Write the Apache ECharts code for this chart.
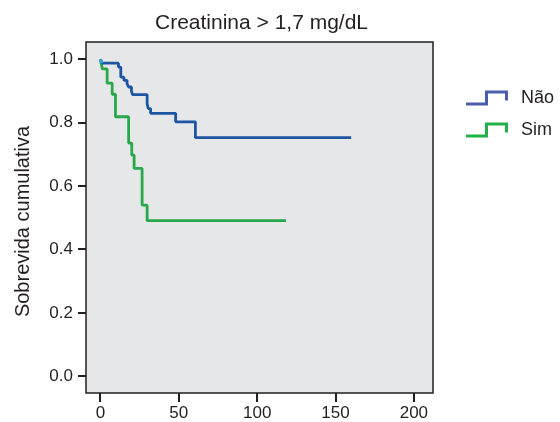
<!DOCTYPE html>
<html><head><meta charset="utf-8">
<script src="https://cdn.jsdelivr.net/npm/echarts@6/dist/echarts.min.js"></script>
<style>html,body{margin:0;padding:0;background:#fff}#c{width:560px;height:422px}</style>
</head><body><div id="c"></div>
<script>
var titleText = 'Creatinina > 1,7 mg/dL';
var yName = 'Sobrevida cumulativa';
var seriesNames = ['Não', 'Sim'];
var xTicks = [0, 50, 100, 150, 200];
var yTicks = [0, 0.2, 0.4, 0.6, 0.8, 1.0];
// Kaplan-Meier steps: [time, survival]
var naoData = [[0,1.0],[1.1,0.988],[11.5,0.976],[13,0.944],[15,0.934],[17,0.923],[18,0.913],[19.8,0.900],[20.5,0.889],[29.8,0.86],[30.5,0.845],[32,0.830],[48,0.803],[60.6,0.753],[160,0.753]];
var simData = [[0,1.0],[1.2,0.97],[4.3,0.925],[7.5,0.89],[9.6,0.819],[18,0.736],[20,0.698],[21.5,0.656],[26.6,0.540],[29.8,0.491],[118.4,0.491]];
var startMark = [[0,1.0],[1.1,1.0],[1.1,0.988]];

var xMin = -9.2, xMax = 212.2, yMin = -0.053, yMax = 1.055;
var stepIcon = 'path://M0,12 L19,12 L19,0 L42,0 L42,10 L39,10 L39,3 L22,3 L22,15 L0,15 Z';
var chart = echarts.init(document.getElementById('c'), null, {renderer:'canvas'});
var font = 'Liberation Sans, Arial, Helvetica, sans-serif';
var ink = '#231f20';
chart.setOption({
  animation:false,
  title:{text:titleText, left:150, top:8, textStyle:{fontFamily:font, fontSize:21, fontWeight:'normal', color:ink}},
  grid:{left:86, right:127, top:42, bottom:29, show:true, backgroundColor:'#e6e7e9', borderColor:ink, borderWidth:1.5},
  legend:{orient:'vertical', left:461, top:84, itemWidth:42, itemHeight:15, itemGap:14,
    icon:stepIcon,
    textStyle:{fontFamily:font, fontSize:18, color:ink, padding:[0,0,0,8]},
    data:[{name:seriesNames[0], itemStyle:{color:'#4a5cae'}},{name:seriesNames[1], itemStyle:{color:'#22b04a'}}]},
  xAxis:{type:'value', min:xMin, max:xMax, position:'bottom',
    axisLine:{show:false, onZero:false}, splitLine:{show:false}, axisTick:{show:false},
    axisLabel:{fontFamily:font, fontSize:17, color:ink, margin:12, customValues:xTicks}},
  yAxis:{type:'value', min:yMin, max:yMax, position:'left',
    name:yName, nameLocation:'middle', nameGap:53, nameRotate:90,
    nameTextStyle:{fontFamily:font, fontSize:20, color:ink, padding:[0,8,0,0]},
    axisLine:{show:false, onZero:false}, splitLine:{show:false}, axisTick:{show:false},
    axisLabel:{fontFamily:font, fontSize:17, color:ink, margin:13, customValues:yTicks, formatter:function(v){return v.toFixed(1);}}},
  series:[
    {name:seriesNames[0], type:'line', step:'end', data:naoData, showSymbol:false, symbol:'none',
      itemStyle:{color:'#4a5cae'}, lineStyle:{color:'#1d55a2', width:2.8}, z:3},
    {name:seriesNames[1], type:'line', step:'end', data:simData, showSymbol:false, symbol:'none',
      itemStyle:{color:'#22b04a'}, lineStyle:{color:'#28a84a', width:2.8}, z:2},
    {name:'start', type:'line', data:startMark, showSymbol:false, symbol:'none',
      lineStyle:{color:'#2aa8df', width:3}, z:4}
  ]
});
// axis tick marks, positioned through the chart's own scales
var ticks = [];
xTicks.forEach(function(v){
  var p = chart.convertToPixel({gridIndex:0}, [v, yMin]);
  var x = Math.round(p[0]);
  ticks.push({type:'rect', z:100, shape:{x:x-1, y:p[1], width:2, height:9}, style:{fill:ink}, silent:true});
});
yTicks.forEach(function(v){
  var p = chart.convertToPixel({gridIndex:0}, [xMin, v]);
  var y = Math.round(p[1]);
  ticks.push({type:'rect', z:100, shape:{x:p[0]-8, y:y-1, width:8, height:2}, style:{fill:ink}, silent:true});
});
chart.setOption({graphic:{elements:ticks}});
</script></body></html>
